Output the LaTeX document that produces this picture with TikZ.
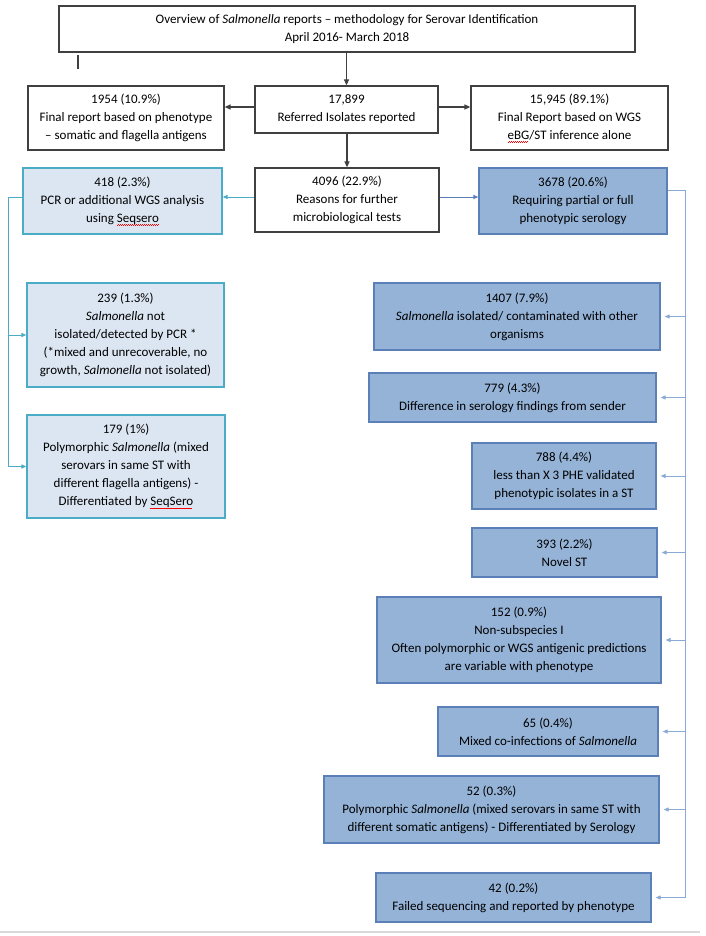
\documentclass[tikz,border=0pt]{standalone}
\usepackage{fontspec}
\setmainfont{Carlito}
\usetikzlibrary{arrows.meta}
\definecolor{boxline}{HTML}{404040}
\definecolor{tealline}{HTML}{4BACC6}
\definecolor{palefill}{HTML}{DCE6F2}
\definecolor{bluefill}{HTML}{95B3D7}
\definecolor{blueline}{HTML}{5B80B8}
\definecolor{trunkline}{HTML}{8AA9D6}
\definecolor{footline}{HTML}{D9D9D9}
\newcommand{\sal}{\textit{Salmonella}}
\newcommand{\squig}[1]{\setbox0\hbox{#1}\rlap{\color{red}\leaders\hbox{\rule[-3pt]{1pt}{0.6pt}\rule[-2.4pt]{1pt}{0.6pt}}\hskip\wd0}\box0}
\begin{document}
\begin{tikzpicture}[x=1pt, y=-1pt,
    font=\fontsize{13}{18}\selectfont,
    plainbox/.style={draw=boxline, line width=1.2pt, fill=white, align=center, inner sep=0pt},
    palebox/.style={plainbox, draw=tealline, fill=palefill},
    bluebox/.style={plainbox, draw=blueline, fill=bluefill},
    blackarr/.style={draw=boxline, line width=1.2pt, -{Triangle[length=6pt,width=5pt]}},
    tealarr/.style={draw=tealline, line width=1pt, -{Triangle[length=5pt,width=4pt]}},
    bluearr/.style={draw=blueline, line width=1pt, -{Triangle[length=5pt,width=4pt]}},
    trunkarr/.style={draw=trunkline, line width=1pt, shorten >=4pt, -{Triangle[length=5pt,width=4pt]}}]
    \useasboundingbox[fill=white] (0,0) rectangle (706,936);

    \node[plainbox, minimum width=576, minimum height=46] (title) at (347,29)
        {Overview of \sal{} reports -- methodology for Serovar Identification\\April 2016- March 2018};
    \node[plainbox, minimum width=196, minimum height=64] (pheno) at (126,118)
        {1954 (10.9\%)\\Final report based on phenotype\\-- somatic and flagella antigens};
    \node[plainbox, minimum width=183, minimum height=47] (referred) at (346.5,109.5)
        {17,899\\Referred Isolates reported};
    \node[plainbox, minimum width=197, minimum height=64] (wgs) at (569.5,118)
        {15,945 (89.1\%)\\Final Report based on WGS\\\squig{eBG}/ST inference alone};
    \node[plainbox, minimum width=184, minimum height=64] (further) at (347,200)
        {4096 (22.9\%)\\Reasons for further\\microbiological tests};

    \node[palebox, minimum width=199, minimum height=66] (pcr) at (122.5,201)
        {418 (2.3\%)\\PCR or additional WGS analysis\\using \squig{Seqsero}};
    \node[palebox, minimum width=197, minimum height=104] (notiso) at (125.5,335)
        {239 (1.3\%)\\\sal{} not\\isolated/detected by PCR *\\(*mixed and unrecoverable, no\\growth, \sal{} not isolated)};
    \node[palebox, minimum width=198, minimum height=103] (poly) at (126,466.5)
        {179 (1\%)\\Polymorphic \sal{} (mixed\\serovars in same ST with\\different flagella antigens) -\\Differentiated by \squig{SeqSero}};

    \node[bluebox, minimum width=188, minimum height=66] (sero) at (573,201)
        {3678 (20.6\%)\\Requiring partial or full\\phenotypic serology};
    \node[bluebox, minimum width=286, minimum height=67] (contam) at (517,316.5)
        {1407 (7.9\%)\\\sal{} isolated/ contaminated with other\\organisms};
    \node[bluebox, minimum width=287, minimum height=49] (diff) at (512.5,397.5)
        {779 (4.3\%)\\Difference in serology findings from sender};
    \node[bluebox, minimum width=184, minimum height=66] (less) at (564,476)
        {788 (4.4\%)\\less than X 3 PHE validated\\phenotypic isolates in a ST};
    \node[bluebox, minimum width=185, minimum height=49] (novel) at (564.5,552.5)
        {393 (2.2\%)\\Novel ST};
    \node[bluebox, minimum width=284, minimum height=86] (nonsub) at (519,640)
        {152 (0.9\%)\\Non-subspecies I\\Often polymorphic or WGS antigenic predictions\\are variable with phenotype};
    \node[bluebox, minimum width=220, minimum height=49] (mixed) at (548,731.5)
        {65 (0.4\%)\\Mixed co-infections of \sal};
    \node[bluebox, minimum width=335, minimum height=67] (polyso) at (491.5,809.5)
        {52 (0.3\%)\\Polymorphic \sal{} (mixed serovars in same ST with\\different somatic antigens) - Differentiated by Serology};
    \node[bluebox, minimum width=275, minimum height=49] (failed) at (513.5,897.5)
        {42 (0.2\%)\\Failed sequencing and reported by phenotype};

    \draw[boxline, line width=1.2pt] (78,55) -- (78,69);
    \draw[blackarr] (title.south -| referred.north) -- (referred.north);
    \draw[blackarr] (referred.west |- 0,107) -- (pheno.east |- 0,107);
    \draw[blackarr] (referred.east |- 0,107) -- (wgs.west |- 0,107);
    \draw[blackarr] (referred.south -| further.north) -- (further.north);
    \draw[tealarr] (further.west |- 0,197) -- (pcr.east |- 0,197);
    \draw[bluearr] (further.east |- 0,197) -- (sero.west |- 0,197);

    \coordinate (ltrunk) at (8,197);
    \draw[tealarr] (pcr.west |- ltrunk) -- (ltrunk) |- (poly.west);
    \draw[tealarr] (ltrunk |- notiso.west) -- (notiso.west);

    \coordinate (rtrunk) at (685,190);
    \draw[draw=trunkline, line width=1pt] (sero.east |- rtrunk) -- (rtrunk) -- (rtrunk |- failed.east);
    \foreach \n in {contam,diff,less,novel,nonsub,mixed,polyso,failed}
        \draw[trunkarr] (rtrunk |- \n.east) -- (\n.east);

    \draw[footline, line width=2pt] (0,932) -- (700,932);
\end{tikzpicture}
\end{document}
